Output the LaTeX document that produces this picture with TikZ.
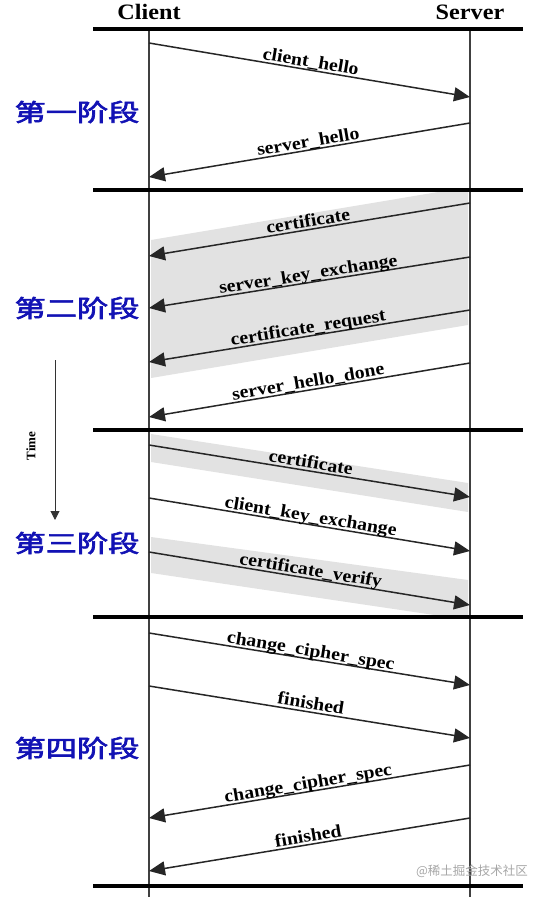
\documentclass[tikz,border=0pt]{standalone}
\usepackage{fontspec}
\setmainfont{Liberation Serif}
\newfontfamily\cjk[FakeBold=2.5]{Noto Sans CJK SC}
\newfontfamily\cjkwm{Noto Sans CJK SC}
\usetikzlibrary{arrows.meta}
\definecolor{stageblue}{RGB}{18,18,180}
\definecolor{bandgray}{RGB}{226,226,226}
\tikzset{
  msg/.style={draw=black!85, line width=1.5pt, -{Triangle[length=16pt,width=14pt]}},
  msglabel/.style={sloped, above=2pt, inner sep=0pt, text depth=0pt, font=\fontsize{18}{20}\selectfont\bfseries},
  sepline/.style={line width=4pt},
  life/.style={draw=black!75, line width=1.5pt},
  band/.style={fill=bandgray, draw=none},
  stage/.style={text=stageblue, font=\fontsize{24}{26}\selectfont\cjk},
  head/.style={font=\fontsize{22}{24}\selectfont\bfseries},
}
\newcommand{\sx}[1]{\scalebox{1.1}[1]{#1}}
\newcommand{\sw}[1]{\scalebox{1.3}[1]{#1}}
\begin{document}
\begin{tikzpicture}[x=1pt,y=-1pt]
\useasboundingbox (0,0) rectangle (541,897);
% grey bands
\begin{scope}
\clip (151,190) rectangle (468,617);
\fill[band] (151,240) -- (468,187) -- (468,325) -- (151,378) -- cycle;
\fill[band] (151,434) -- (468,483) -- (468,512) -- (151,462) -- cycle;
\fill[band] (151,537) -- (468,580) -- (468,620) -- (151,573) -- cycle;
\end{scope}
% lifelines
\coordinate (cTop) at (149,29); \coordinate (cBot) at (149,897);
\coordinate (sTop) at (470,29); \coordinate (sBot) at (470,897);
\draw[life] (cTop) -- (cBot);
\draw[life] (sTop) -- (sBot);
% separators
\foreach \y [count=\i] in {29,190,430,617,886}{
  \coordinate (La\i) at (93,\y); \coordinate (Lb\i) at (523,\y);
  \draw[sepline] (La\i) -- (Lb\i);
}
% headers
\node[head] (client) at (149,12) {\sx{Client}};
\node[head] (server) at (470,12) {\sx{Server}};
% stage labels
\node[stage] (st1) at (77,112) {\sw{第一阶段}};
\node[stage] (st2) at (77,308) {\sw{第二阶段}};
\node[stage] (st3) at (77,543) {\sw{第三阶段}};
\node[stage] (st4) at (77,748) {\sw{第四阶段}};
% time arrow
\coordinate (t1) at (55,360); \coordinate (t2) at (55,520);
\draw[draw=black!80, line width=1pt, -{Triangle[length=9pt,width=9pt]}] (t1) -- (t2);
\node[rotate=90, font=\fontsize{13}{15}\selectfont\bfseries] (time) at (31,446) {Time};
% endpoints
\coordinate (a1) at (149,43);  \coordinate (b1) at (470,97);
\coordinate (b2) at (470,123); \coordinate (a2) at (149,177);
\coordinate (b3) at (470,203); \coordinate (a3) at (149,256);
\coordinate (b4) at (470,257); \coordinate (a4) at (149,308);
\coordinate (b5) at (470,310); \coordinate (a5) at (149,362);
\coordinate (b6) at (470,363); \coordinate (a6) at (149,417);
\coordinate (a7) at (149,445); \coordinate (b7) at (470,497);
\coordinate (a8) at (149,498); \coordinate (b8) at (470,551);
\coordinate (a9) at (149,552); \coordinate (b9) at (470,605);
\coordinate (a10) at (149,633); \coordinate (b10) at (470,685);
\coordinate (a11) at (149,686); \coordinate (b11) at (470,738);
\coordinate (b12) at (470,765); \coordinate (a12) at (149,818);
\coordinate (b13) at (470,818); \coordinate (a13) at (149,871);
% messages
\draw[msg] (a1) -- node[msglabel]{\sx{client\_hello}} (b1);
\draw[msg] (b2) -- node[msglabel]{\sx{server\_hello}} (a2);
\draw[msg] (b3) -- node[msglabel]{\sx{certificate}} (a3);
\draw[msg] (b4) -- node[msglabel]{\sx{server\_key\_exchange}} (a4);
\draw[msg] (b5) -- node[msglabel]{\sx{certificate\_request}} (a5);
\draw[msg] (b6) -- node[msglabel]{\sx{server\_hello\_done}} (a6);
\draw[msg] (a7) -- node[msglabel]{\sx{certificate}} (b7);
\draw[msg] (a8) -- node[msglabel]{\sx{client\_key\_exchange}} (b8);
\draw[msg] (a9) -- node[msglabel]{\sx{certificate\_verify}} (b9);
\draw[msg] (a10) -- node[msglabel]{\sx{change\_cipher\_spec}} (b10);
\draw[msg] (a11) -- node[msglabel]{\sx{finished}} (b11);
\draw[msg] (b12) -- node[msglabel]{\sx{change\_cipher\_spec}} (a12);
\draw[msg] (b13) -- node[msglabel]{\sx{finished}} (a13);
% watermark
\node[text=black!35, font=\fontsize{12.5}{14}\selectfont\cjkwm] (wm) at (472,871) {@稀土掘金技术社区};
\end{tikzpicture}
\end{document}
